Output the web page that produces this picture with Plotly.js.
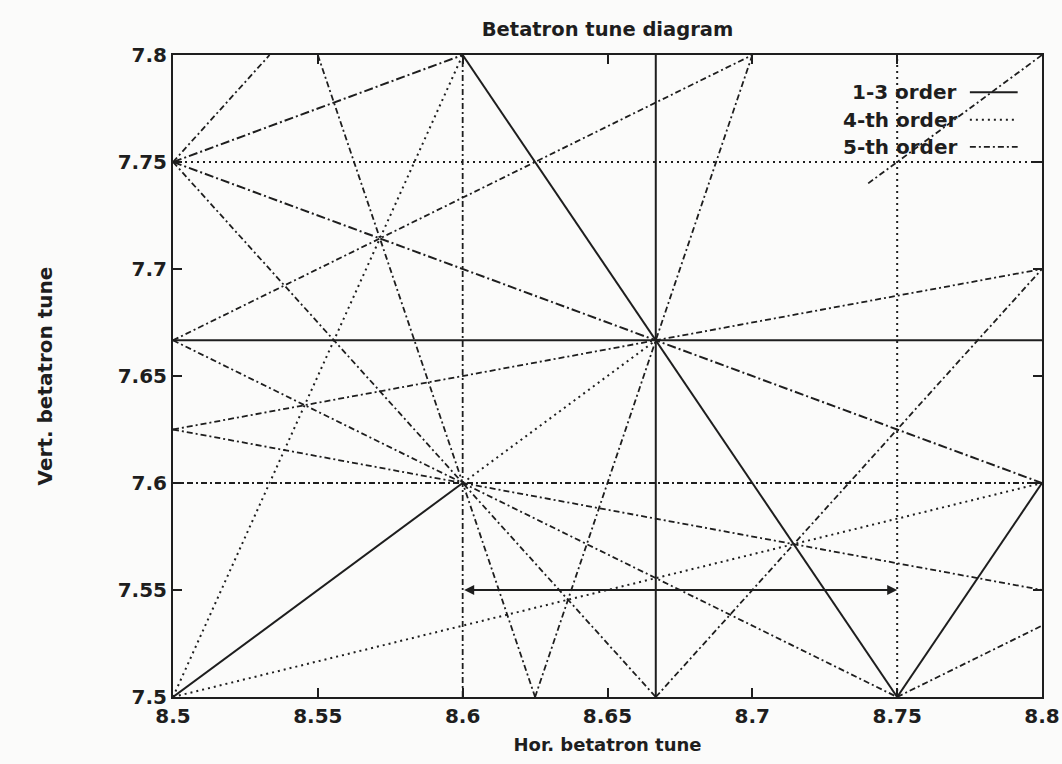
<!DOCTYPE html>
<html>
<head>
<meta charset="utf-8">
<script src="https://cdn.plot.ly/plotly-3.0.1.min.js"></script>
<style>
  html, body { margin: 0; padding: 0; background: #fbfbfa; }
  #chart { width: 1062px; height: 764px; }
</style>
</head>
<body>
<div id="chart"></div>
<script>
// ---- Data: working region and resonance lines m*Qx + n*Qy = p ----
const QX_RANGE = [8.5, 8.8];
const QY_RANGE = [7.5, 7.8];
const xTickVals = [8.5, 8.55, 8.6, 8.65, 8.7, 8.75, 8.8];
const xTickText = ['8.5', '8.55', '8.6', '8.65', '8.7', '8.75', '8.8'];
const yTickVals = [7.5, 7.55, 7.6, 7.65, 7.7, 7.75, 7.8];
const yTickText = ['7.5', '7.55', '7.6', '7.65', '7.7', '7.75', '7.8'];

// [m, n, p, optional Qx-from, optional Qx-to] (only the drawn part of a line)
const order13Lines = [[3, 0, 26], [0, 3, 23], [2, 1, 25], [2, -1, 10], [1, -1, 1, 8.5, 8.6]];
const order13BrokenLines = [[1, 2, 24], [1, -2, -7]];
const order4Lines = [[4, 0, 35], [0, 4, 31], [3, -1, 18], [1, -3, -14], [1, -1, 1, 8.6, 8.6667]];
const order5Lines = [[5, 0, 43], [0, 5, 38], [4, 1, 42], [4, -1, 27], [3, 2, 41], [3, -2, 10],
                     [3, -2, 11], [2, 3, 40], [2, -3, -6], [2, -3, -5], [1, 4, 39], [1, -4, -22],
                     [1, -1, 1, 8.74, 8.8]];
const legendLabels = ['1-3 order', '4-th order', '5-th order'];
// working-point scan annotation (horizontal tune range at fixed Qy)
const scanQx = [8.6, 8.75];
const scanQy = 7.55;
const titleText = 'Betatron tune diagram';
const xTitle = 'Hor. betatron tune';
const yTitle = 'Vert. betatron tune';

// ---- Build segments by clipping each line to the region ----
function clipLine(line) {
  const m = line[0], n = line[1], p = line[2];
  const lo = line.length > 3 ? line[3] : QX_RANGE[0];
  const hi = line.length > 4 ? line[4] : QX_RANGE[1];
  const eps = 1e-9;
  const pts = [];
  if (n !== 0) {
    [lo, hi].forEach(qx => {
      const qy = (p - m * qx) / n;
      if (qy >= QY_RANGE[0] - eps && qy <= QY_RANGE[1] + eps) pts.push([qx, qy]);
    });
  }
  if (m !== 0) {
    QY_RANGE.forEach(qy => {
      const qx = (p - n * qy) / m;
      if (qx >= lo - eps && qx <= hi + eps) pts.push([qx, qy]);
    });
  }
  if (pts.length < 2) return null;
  pts.sort((a, b) => (a[0] - b[0]) || (a[1] - b[1]));
  return [pts[0], pts[pts.length - 1]];
}
function linesToXY(lines) {
  const x = [], y = [];
  lines.forEach(l => {
    const s = clipLine(l);
    if (!s) return;
    x.push(s[0][0], s[1][0], null);
    y.push(s[0][1], s[1][1], null);
  });
  return {x, y};
}

const INK = '#1e1e1e';
const FAMILY = 'DejaVu Sans, Liberation Sans, sans-serif';
const font = size => ({family: FAMILY, size: size, color: INK, weight: 700});
const styles = [
  {dash: 'solid', width: 2},
  {dash: '2px,4px', width: 2},
  {dash: '6px,3px,2px,3px', width: 1.8}
];

const d13 = linesToXY(order13Lines);
const d13b = linesToXY(order13BrokenLines);
const d4 = linesToXY(order4Lines);
const d5 = linesToXY(order5Lines);

const traces = [
  {x: d13.x, y: d13.y, mode: 'lines', name: legendLabels[0], line: {color: INK, width: styles[0].width, dash: styles[0].dash}, showlegend: false, hoverinfo: 'skip'},
  {x: d13b.x, y: d13b.y, mode: 'lines', name: legendLabels[0], line: {color: INK, width: 2, dash: '9px,3px,2px,3px'}, showlegend: false, hoverinfo: 'skip'},
  {x: d4.x, y: d4.y, mode: 'lines', name: legendLabels[1], line: {color: INK, width: styles[1].width, dash: styles[1].dash}, showlegend: false, hoverinfo: 'skip'},
  {x: d5.x, y: d5.y, mode: 'lines', name: legendLabels[2], line: {color: INK, width: styles[2].width, dash: styles[2].dash}, showlegend: false, hoverinfo: 'skip'}
];

// ---- Manual legend (text left, line sample right, as in the original) ----
const legendY = [0.942, 0.899, 0.857];
const annotations = [];
const shapes = [];
legendLabels.forEach((lab, i) => {
  annotations.push({xref: 'paper', yref: 'paper', x: 0.905, y: legendY[i], xanchor: 'right', yanchor: 'middle',
    text: lab, showarrow: false, font: font(20)});
  shapes.push({type: 'line', xref: 'paper', yref: 'paper', x0: 0.917, x1: 0.972, y0: legendY[i], y1: legendY[i],
    line: {color: INK, width: styles[i].width, dash: styles[i].dash}});
});
annotations.push({x: scanQx[1], y: scanQy, ax: scanQx[0], ay: scanQy, xref: 'x', yref: 'y', axref: 'x', ayref: 'y',
  showarrow: true, arrowside: 'end+start', arrowhead: 2, arrowsize: 1, arrowwidth: 2, arrowcolor: INK, text: ''});

const axisCommon = {
  showgrid: false, zeroline: false, showline: true, linewidth: 2, linecolor: INK,
  mirror: 'ticks', ticks: 'inside', ticklen: 9, tickwidth: 2, tickcolor: INK,
  tickfont: font(20)
};

const layout = {
  width: 1062, height: 764,
  paper_bgcolor: '#fbfbfa', plot_bgcolor: '#fbfbfa',
  margin: {l: 173, r: 20, t: 55, b: 67},
  showlegend: false,
  title: {text: titleText, font: font(19.5), x: 0.5, xref: 'paper', y: 0.962, yref: 'container', yanchor: 'middle'},
  xaxis: Object.assign({}, axisCommon, {range: QX_RANGE, tickvals: xTickVals, ticktext: xTickText,
    title: {text: xTitle, font: font(18), standoff: 11}}),
  yaxis: Object.assign({}, axisCommon, {range: QY_RANGE, tickvals: yTickVals, ticktext: yTickText,
    title: {text: yTitle, font: font(20), standoff: 60}}),
  annotations: annotations,
  shapes: shapes
};

Plotly.newPlot('chart', traces, layout, {displayModeBar: false, staticPlot: true});
</script>
</body>
</html>
